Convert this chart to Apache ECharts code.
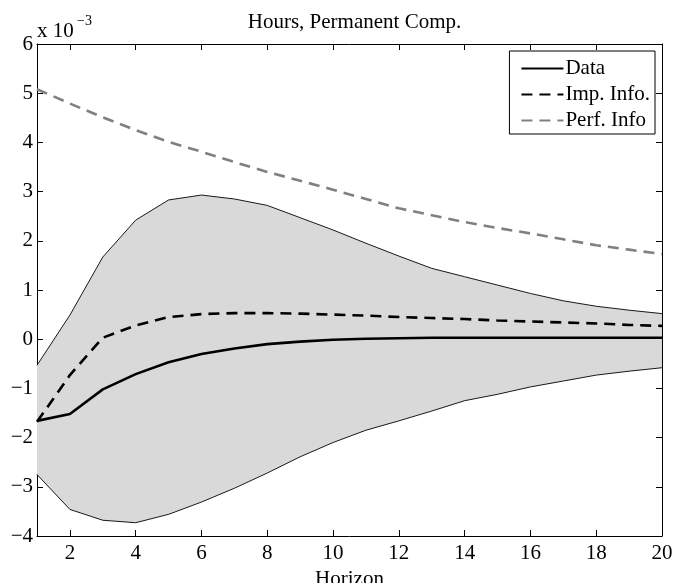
<!DOCTYPE html>
<html>
<head>
<meta charset="utf-8">
<script src="https://cdn.jsdelivr.net/npm/echarts@6/dist/echarts.min.js"></script>
<style>
html,body{margin:0;padding:0;background:#fff;}
#chart{width:674px;height:583px;}
</style>
</head>
<body>
<div id="chart"></div>
<script>
// Values in units of 1e-3
var horizon = [1,2,3,4,5,6,7,8,9,10,11,12,13,14,15,16,17,18,19,20];
var bandUpper = [-0.53, 0.49, 1.67, 2.42, 2.83, 2.93, 2.85, 2.72, 2.47, 2.22, 1.95, 1.69, 1.44, 1.27, 1.10, 0.93, 0.78, 0.67, 0.59, 0.52];
var bandLower = [-2.75, -3.46, -3.68, -3.73, -3.56, -3.31, -3.03, -2.72, -2.39, -2.10, -1.85, -1.66, -1.46, -1.25, -1.12, -0.97, -0.85, -0.73, -0.65, -0.58];
var dataLine = [-1.66, -1.52, -1.02, -0.71, -0.47, -0.30, -0.19, -0.10, -0.05, -0.01, 0.01, 0.02, 0.03, 0.03, 0.03, 0.03, 0.03, 0.03, 0.03, 0.03];
var impInfo = [-1.68, -0.73, 0.03, 0.28, 0.45, 0.51, 0.53, 0.53, 0.52, 0.50, 0.48, 0.45, 0.43, 0.41, 0.38, 0.36, 0.34, 0.32, 0.29, 0.27];
var perfInfo = [5.08, 4.79, 4.51, 4.25, 4.01, 3.81, 3.60, 3.40, 3.22, 3.04, 2.85, 2.66, 2.52, 2.38, 2.26, 2.15, 2.03, 1.91, 1.82, 1.73];
var yTicks = {min: -4, max: 6, step: 1};

var bandWidth = bandUpper.map(function (v, i) { return v - bandLower[i]; });

var FONT = '"Liberation Serif", "Times New Roman", serif';
var FS = 21;
var evenOnly = function (idx) { return (idx + 1) % 2 === 0; };

var chart = echarts.init(document.getElementById('chart'), null, {renderer: 'canvas'});
var xCommon = {
  type: 'category',
  data: horizon.map(String),
  boundaryGap: false,
  axisLine: {show: true, onZero: false, lineStyle: {color: '#000', width: 1}},
  axisTick: {show: true, inside: true, length: 6, interval: evenOnly, lineStyle: {color: '#000'}},
  splitLine: {show: false}
};
var yCommon = {
  type: 'value',
  min: yTicks.min, max: yTicks.max, interval: yTicks.step,
  axisLine: {show: true, onZero: false, lineStyle: {color: '#000', width: 1}},
  axisTick: {show: true, inside: true, length: 6, lineStyle: {color: '#000'}},
  splitLine: {show: false}
};

chart.setOption({
  animation: false,
  backgroundColor: '#fff',
  title: {
    text: 'Hours, Permanent Comp.',
    left: 349.5, top: 7, textAlign: 'center',
    textStyle: {fontFamily: FONT, fontSize: FS, fontWeight: 'normal', color: '#000'}
  },
  graphic: [
    {type: 'text', left: 37, top: 21, style: {text: 'x 10', font: FS + 'px ' + FONT, fill: '#000'}},
    {type: 'text', left: 77, top: 14, style: {text: '\u22123', font: '14px ' + FONT, fill: '#000'}}
  ],
  legend: {
    data: ['Data', 'Imp. Info.', 'Perf. Info'],
    orient: 'vertical',
    right: 19, top: 51,
    itemWidth: 42, itemHeight: 14, itemGap: 5,
    padding: [7, 5, 3, 11],
    borderColor: '#000', borderWidth: 1,
    backgroundColor: '#fff',
    selectedMode: false,
    itemStyle: {opacity: 0, borderWidth: 0},
    textStyle: {fontFamily: FONT, fontSize: FS, color: '#000', padding: [0, 0, 0, -3]}
  },
  grid: {left: 37, right: 12, top: 44, bottom: 47, containLabel: false, outerBoundsMode: 'none'},
  xAxis: [
    Object.assign({}, xCommon, {
      position: 'bottom',
      name: 'Horizon', nameLocation: 'middle', nameGap: 25,
      nameTextStyle: {fontFamily: FONT, fontSize: FS, color: '#000'},
      axisLabel: {show: true, interval: evenOnly, margin: 7, fontFamily: FONT, fontSize: FS, color: '#000'}
    }),
    Object.assign({}, xCommon, {position: 'top', axisLabel: {show: false}})
  ],
  yAxis: [
    Object.assign({}, yCommon, {
      position: 'left',
      axisLabel: {
        show: true, margin: 4, fontFamily: FONT, fontSize: FS, color: '#000',
        formatter: function (v) { return String(v).replace('-', '\u2212'); }
      }
    }),
    Object.assign({}, yCommon, {position: 'right', axisLabel: {show: false}})
  ],
  series: [
    {name: 'bandBase', type: 'line', data: bandLower, stack: 'band', stackStrategy: 'all',
     symbol: 'none', lineStyle: {width: 0, opacity: 0}, silent: true, z: 1},
    {name: 'bandFill', type: 'line', data: bandWidth, stack: 'band', stackStrategy: 'all',
     symbol: 'none', lineStyle: {width: 0, opacity: 0},
     areaStyle: {color: '#d9d9d9', opacity: 1}, silent: true, z: 1},
    {name: 'upperEdge', type: 'line', data: bandUpper, symbol: 'none',
     lineStyle: {color: '#000', width: 0.9}, z: 2},
    {name: 'lowerEdge', type: 'line', data: bandLower, symbol: 'none',
     lineStyle: {color: '#000', width: 0.9}, z: 2},
    {name: 'Data', type: 'line', data: dataLine, symbol: 'none', color: '#000',
     lineStyle: {color: '#000', width: 2.6}, z: 3},
    {name: 'Imp. Info.', type: 'line', data: impInfo, symbol: 'none', color: '#000',
     lineStyle: {color: '#000', width: 2.6, type: [11, 7]}, z: 3},
    {name: 'Perf. Info', type: 'line', data: perfInfo, symbol: 'none', color: '#808080',
     lineStyle: {color: '#808080', width: 2.6, type: [11, 7]}, z: 3}
  ]
});
</script>
</body>
</html>
